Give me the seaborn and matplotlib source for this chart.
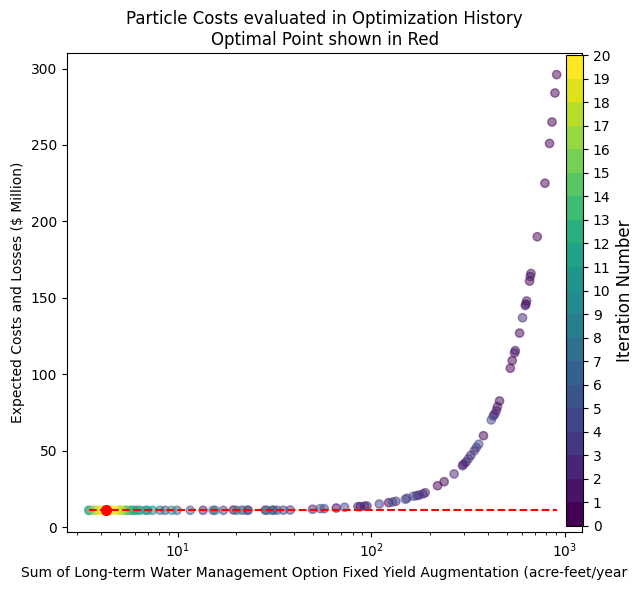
import matplotlib
matplotlib.use("Agg")
import matplotlib.pyplot as plt
import matplotlib.colors as mcolors
import numpy as np
import pandas as pd
import seaborn as sns

# particle history (x = augmentation, y = cost, it = iteration)
aug_x = [908, 890, 859, 834, 790, 721, 658, 584, 535, 523, 460, 380, 238, 220, 123, 87.7, 65.9, 19.4,
         669, 663, 635, 630, 625, 555, 550, 449, 443, 309, 296, 172, 95, 28.3,
         605, 434, 427, 327, 300, 268, 190, 185, 92.3, 85.3, 49.7, 23.1, 13.5,
         341, 349, 318, 177, 153, 134, 110, 38.1, 31.2, 21.5,
         417, 359, 165, 150, 129, 72.8, 57.1, 35.1, 17.2,
         54.5, 32.6, 15.2, 11.6, 8.6,
         30.7, 22.8, 9.9,
         28.9, 15.6, 8.1,
         20.2, 7.4, 6.8,
         3.46, 6.2, 9.3,
         5.7, 7.0,
         6.4, 5.9,
         6.0, 3.5,
         5.5,
         5.4,
         5.3, 3.8,
         3.66, 5.1,
         3.97, 4.9,
         5.05, 4.5,
         4.64, 3.9,
         4.30, 4.4, 4.1]
cost_y = [296, 284, 265, 251, 225, 190, 161, 127, 109, 104, 82.6, 59.9, 29.8, 27.2, 16.1, 13.5, 12.6, 11.3,
          166, 164, 148, 146, 145, 115.5, 114, 78.9, 76.3, 42.7, 40.3, 20.7, 13.9, 11.2,
          137, 73.9, 72.8, 47.1, 41.2, 34.9, 22.6, 21.8, 13.9, 13.5, 11.8, 11.2, 11.1,
          50.1, 52.1, 44.9, 21.1, 19.0, 17.0, 15.2, 11.3, 11.2, 11.2,
          70.2, 54.3, 20.3, 18.3, 16.5, 13.1, 12.2, 11.2, 11.1,
          12.2, 11.2, 11.1, 11.1, 11.1,
          11.2, 11.1, 11.1,
          11.1, 11.1, 11.1,
          11.1, 11.1, 11.1,
          11.1, 11.1, 11.1,
          11.1, 11.1,
          11.1, 11.1,
          11.1, 11.1,
          11.1,
          11.1,
          11.1, 11.1,
          11.1, 11.1,
          11.1, 11.1,
          11.1, 11.1,
          11.1, 11.1,
          11.1, 11.1, 11.1]
iters = ([0] * 18 + [1] * 14 + [2] * 13 + [3] * 10 + [4] * 9 + [5] * 5 + [6] * 3 + [7] * 3 + [8] * 3
         + [9] * 3 + [10] * 2 + [11] * 2 + [12] * 2 + [13] + [14] + [15] * 2 + [16] * 2 + [17] * 2
         + [18] * 2 + [19] * 2 + [20] * 3)

opt_x = 4.27
opt_y = 11.1

df = pd.DataFrame({'x': aug_x, 'y': cost_y, 'it': iters})

cmap = plt.get_cmap('viridis', 20)
norm = mcolors.Normalize(vmin=0, vmax=20)

fig = plt.figure(figsize=(6.44, 5.9), dpi=100)
ax = fig.add_axes([0.104, 0.0988, 0.80, 0.811])

sns.scatterplot(data=df, x='x', y='y', hue='it', palette=cmap, hue_norm=norm,
                alpha=0.5, s=36, edgecolor='face', linewidth=1, legend=False, ax=ax)
ax.set_xscale('log')
ax.plot([min(aug_x), max(aug_x)], [opt_y, opt_y], 'r--', lw=1.5, zorder=3)
ax.plot(opt_x, opt_y, 'ro', ms=7, zorder=4)

ax.set_xlim(10 ** 0.427, 10 ** 3.09)
ax.set_ylim(-2.9, 310)
ax.set_title('Particle Costs evaluated in Optimization History\nOptimal Point shown in Red', fontsize=12)
ax.set_xlabel('Sum of Long-term Water Management Option Fixed Yield Augmentation (acre-feet/year')
ax.set_ylabel('Expected Costs and Losses ($ Million)')

cax = fig.add_axes([0.879, 0.1085, 0.0264, 0.798])
sm = plt.cm.ScalarMappable(cmap=cmap, norm=norm)
cb = fig.colorbar(sm, cax=cax, ticks=range(0, 21))
cb.set_label('Iteration Number', fontsize=12)

fig.savefig('out.png', dpi=100)
